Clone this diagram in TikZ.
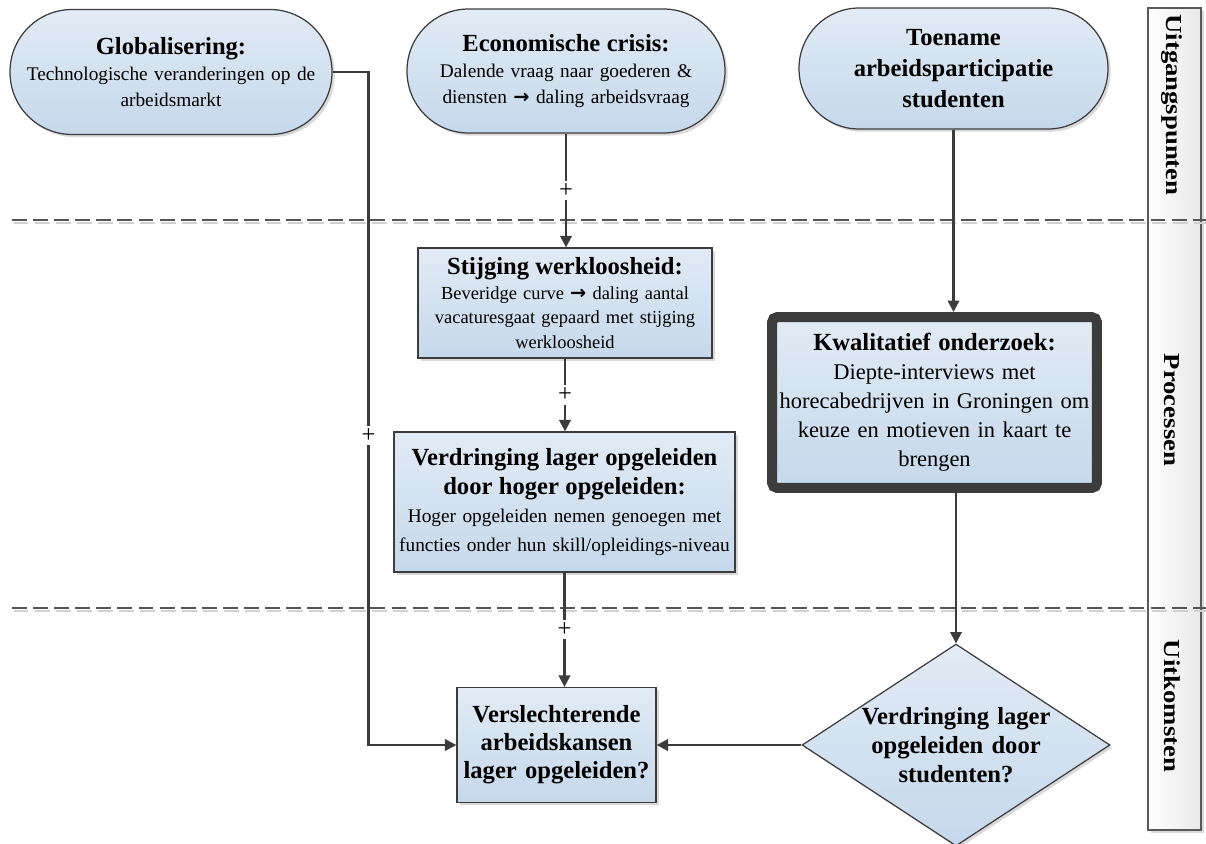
\documentclass[tikz,border=0pt]{standalone}
\usepackage{fontspec}
\setmainfont{Liberation Serif}
\newfontfamily\arrowfont{DejaVu Sans}
\usepackage{graphicx}
\usepackage{tikz}
\usetikzlibrary{positioning,arrows.meta,calc,shapes.geometric,shadows}

\definecolor{linegray}{HTML}{3C3C3C}
\definecolor{dashgray}{HTML}{555555}
\definecolor{boxtop}{HTML}{E2EBF5}
\definecolor{boxbot}{HTML}{C5D8EB}

\newcommand{\hd}{\fontsize{14}{16.5}\selectfont\bfseries}
\newcommand{\bd}{\fontsize{11}{15}\selectfont\mdseries}
\newcommand{\ra}{{\arrowfont\bfseries\fontsize{11}{11}\selectfont →}}

\begin{document}
\begin{tikzpicture}[x=0.02cm, y=-0.02cm,
    flow/.style={draw=linegray, line width=0.7pt, top color=boxtop, bottom color=boxbot,
      drop shadow={shadow xshift=1.5pt, shadow yshift=-1.5pt, opacity=0.3},
      align=center, inner sep=2pt},
    term/.style={flow, rectangle},
    proc/.style={flow, rectangle},
    decide/.style={flow, diamond, aspect=1.52},
    arr/.style={-{Triangle[length=6.5pt, width=6.5pt]}, draw=linegray, line width=1.3pt},
    pluslabel/.style={fill=white, inner sep=1.5pt, font=\fontsize{14}{14}\selectfont},
    lanesep/.style={draw=dashgray, line width=1.2pt, dash pattern=on 8.5pt off 3.5pt},
    laneshade/.style={lanesep, draw=black!18},
    laneframe/.style={draw=black!65, line width=0.7pt, left color=white, right color=black!9,
      drop shadow={shadow xshift=1.5pt, shadow yshift=-1.5pt, opacity=0.3}},
    lanelabel/.style={rotate=-90, font=\fontsize{13}{13}\selectfont\bfseries},
  ]
  \useasboundingbox (0,0) rectangle (1206,843);

  % kolom met de fasen rechts
  \node[laneframe, minimum width=1.06cm, minimum height=16.44cm] (lanes) at (1174.5,419) {};
  \node[lanelabel] (lab1) at (1172,105) {\scalebox{1.17}[1]{Uitgangspunten}};
  \node[lanelabel] (lab2) at (1172,410) {\scalebox{1.17}[1]{Processen}};
  \node[lanelabel] (lab3) at (1172,706) {\scalebox{1.17}[1]{Uitkomsten}};

  % scheidingslijnen tussen de fasen
  \draw[laneshade] (13.5,223) -- (1206,223);
  \draw[lanesep] (12,220) -- (1206,220);
  \draw[laneshade] (13.5,611) -- (1206,611);
  \draw[lanesep] (12,608) -- (1206,608);

  % uitgangspunten
  \node[term, rounded corners=1.24cm, minimum width=6.44cm, minimum height=2.5cm, text width=6.2cm, font=\bd] (glob) at (171,72)
    {{\hd Globalisering:\par}Technologische veranderingen op de\\ arbeidsmarkt\par};
  \node[term, rounded corners=1.23cm, minimum width=6.36cm, minimum height=2.48cm, text width=5.9cm, font=\bd] (econ) at (566,71)
    {{\hd Economische crisis:\par}Dalende vraag naar goederen \&\\ diensten \ra{} daling arbeidsvraag\par};
  \node[term, rounded corners=1.2cm, minimum width=6.18cm, minimum height=2.42cm, text width=5cm,
    font=\fontsize{14}{17.5}\selectfont\bfseries] (toen) at (953.5,68.5)
    {Toename\\ arbeidsparticipatie\\ studenten\par};

  % processen
  \node[proc, minimum width=5.88cm, minimum height=2.2cm, text width=5.65cm,
    font=\fontsize{10.5}{14}\selectfont] (stij) at (565,303)
    {{\hd Stijging werkloosheid:\par}Beveridge curve \ra{} daling aantal\\ vacaturesgaat gepaard met stijging\\ werkloosheid\par};
  \node[proc, inner sep=1pt, minimum width=6.82cm, minimum height=2.8cm, text width=6.72cm,
    font=\fontsize{11}{16}\selectfont] (verd) at (564.5,502)
    {{\hd Verdringing lager opgeleiden\\ door hoger opgeleiden:\par}Hoger opgeleiden nemen genoegen met\\ functies onder hun skill/opleidings-niveau\par};
  \node[proc, line width=0.2cm, rounded corners=3pt, minimum width=6.5cm, minimum height=3.42cm, text width=6.25cm,
    font=\fontsize{12.8}{16.5}\selectfont] (kwal) at (934.5,402.5)
    {{\hd Kwalitatief onderzoek:\par}Diepte-interviews met\\ horecabedrijven in Groningen om\\ keuze en motieven in kaart te\\ brengen\par};

  % uitkomsten
  \node[proc, inner sep=1pt, minimum width=3.98cm, minimum height=2.3cm, text width=3.88cm,
    font=\fontsize{14}{16}\selectfont\bfseries] (vers) at (556.5,745)
    {Verslechterende\\ arbeidskansen\\ lager opgeleiden?\par};
  \node[decide, text width=3.9cm, inner xsep=-5pt, inner ysep=0pt, minimum width=6.16cm, minimum height=4.04cm,
    font=\fontsize{14}{16.5}\selectfont\bfseries] (dec) at (956,745)
    {Verdringing lager\\ opgeleiden door\\ studenten?\par};

  % verbindingen
  \draw[arr] (glob.east) -- ++(36,0) coordinate (gbend)
    -- node[pluslabel, pos=0.54] {+} (gbend |- vers.west) -- (vers.west);
  \draw[arr] (econ.south) -- node[pluslabel] {+} (econ.south |- stij.north);
  \draw[arr] (stij.south) -- node[pluslabel] {+} (stij.south |- verd.north);
  \draw[arr] (verd.south) -- node[pluslabel] {+} (verd.south |- vers.north);
  \draw[arr] (toen.south) -- (toen.south |- kwal.north);
  \draw[arr] (dec.north |- kwal.south) -- (dec.north);
  \draw[arr] (dec.west) -- (vers.east);
\end{tikzpicture}
\end{document}
